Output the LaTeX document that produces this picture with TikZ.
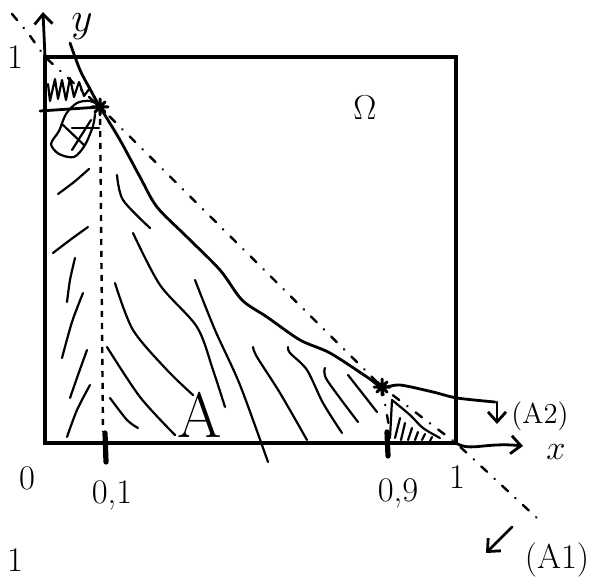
\documentclass[tikz,border=0pt]{standalone}
\usetikzlibrary{arrows.meta,positioning}

\tikzset{
  rand/.style={line width=1.6pt},
  stift/.style={line width=1.4pt, line cap=round, line join=round},
  schraffur/.style={line width=1.1pt, line cap=round, line join=round},
  senkrecht/.style={line width=1.2pt, dash pattern=on 3pt off 3pt},
  diagonale/.style={line width=1.2pt, line cap=round, dash pattern=on 4pt off 5pt on 0.2pt off 5pt},
  marke/.style={line width=2.6pt, line cap=round},
  schrift/.style={font=\LARGE, inner sep=0pt},
  pfeil/.style={stift, -{Straight Barb[length=5pt,width=9pt,line width=1.4pt]}},
  stern/.pic={\draw[line width=1.5pt, line cap=round] (-8,0) -- (8,0) (0,-8) -- (0,8) (-5,-5) -- (5,5) (-5,5) -- (5,-5);},
}

\begin{document}
\begin{tikzpicture}[x=0.5pt,y=-0.5pt]
\useasboundingbox (0,0) rectangle (598,582);

% Quadrat Omega
\coordinate (O) at (45,443);
\coordinate (Ex) at (456,443);
\coordinate (Ey) at (45,57);
\coordinate (E) at (456,57);
\draw[rand] (O) rectangle (E);

% Achsen
\coordinate (ytip) at (43,12);
\coordinate (xtip) at (523,446);
\draw[pfeil] (Ey) -- (ytip);
\draw[pfeil] (Ex) .. controls (470,452) and (485,442) .. (xtip);

% Punkte auf der Kurve
\coordinate (P1) at (100,107);
\coordinate (P2) at (382,387);

% gestrichelte Gerade
\draw[diagonale] (12,14) -- (28,33) -- (Ey) -- (P1) -- (P2) -- (Ex) -- (538,519);

% Kurve
\draw[stift] plot[smooth,tension=0.5] coordinates {(70,43) (80,70) (90,89) (P1) (120,140) (140,177) (157,207) (187,237) (220,270) (242,300) (267,317) (300,340) (330,353) (367,377) (P2) (400,385) (433,392) (457,398) (495,402)};

% (A2) und (A1)
\coordinate (A2a) at (497,402);
\coordinate (A2b) at (497,424);
\draw[pfeil] (A2a) -- (A2b);
\coordinate (A1a) at (512,527);
\coordinate (A1b) at (486,553);
\draw[pfeil] (A1a) -- (A1b);

% Lote und Markierungen
\draw[senkrecht] (P1) -- (103,432);
\draw[diagonale] (P2) -- (390,432);
\draw[marke] (105,433) -- (106,462);
\draw[marke] (387,432) -- (388,456);
\draw[stift] (40,111) -- (P1);
\pic at (P1) {stern};
\pic at (P2) {stern};

% Schraffur oben links
\draw[schraffur] (48,84) -- (50,101) -- (55,79) -- (58,99) -- (62,80) -- (66,100) -- (70,78) -- (74,97) -- (79,82) -- (84,96) -- (90,88);
\draw[schraffur] plot[smooth] coordinates {(102,107) (90,101) (77,103) (66,114) (59,131) (51,144) (59,154) (74,157) (85,145) (93,126) (95,114)};
\draw[schraffur] (63,125) -- (84,145);
\draw[schraffur] (72,150) -- (91,120);
\draw[schraffur] (72,128) -- (99,128);

% Schraffur A
\draw[schraffur] plot[smooth] coordinates {(89,169) (74,182) (58,194)};
\draw[schraffur] plot[smooth] coordinates {(88,227) (70,240) (53,253)};
\draw[schraffur] plot[smooth] coordinates {(75,258) (70,280) (67,302)};
\draw[schraffur] plot[smooth] coordinates {(83,293) (72,322) (62,358)};
\draw[schraffur] plot[smooth] coordinates {(87,350) (78,375) (70,398)};
\draw[schraffur] plot[smooth] coordinates {(90,385) (77,410) (67,437)};
\draw[schraffur] plot[smooth] coordinates {(117,175) (123,200) (150,228)};
\draw[schraffur] plot[smooth] coordinates {(115,283) (133,330) (167,370) (193,395)};
\draw[schraffur] plot[smooth] coordinates {(107,347) (140,397) (175,435)};
\draw[schraffur] plot[smooth] coordinates {(110,398) (127,420) (138,428)};
\draw[schraffur] plot[smooth] coordinates {(133,233) (160,285) (197,327) (213,370) (225,407)};
\draw[schraffur] plot[smooth] coordinates {(195,280) (215,330) (240,385) (268,462)};
\draw[schraffur] plot[smooth] coordinates {(253,347) (257,357) (280,393) (307,440)};
\draw[schraffur] plot[smooth] coordinates {(288,347) (290,353) (307,370) (323,403) (342,433)};
\draw[schraffur] plot[smooth] coordinates {(325,368) (327,380) (358,422)};
\draw[schraffur] (348,375) -- (377,412);

% Schraffur unten rechts
\draw[schraffur] (392,400) -- (390,438);
\draw[schraffur] plot[smooth] coordinates {(392,400) (410,415) (423,428) (440,438)};
\draw[schraffur] (400,418) -- (395,438);
\draw[schraffur] (405,423) -- (401,440);
\draw[schraffur] (412,428) -- (408,440);
\draw[schraffur] (418,432) -- (415,440);
\draw[schraffur] (425,434) -- (422,440);
\draw[schraffur] (432,437) -- (430,441);

% Beschriftung
\node[schrift] (lab1y) at (15,57) {1};
\node[schrift, font=\huge] (laby) at (82,27) {$y$};
\node[schrift] (labx) at (556,452) {$x$};
\node[schrift] (lab0) at (27,478) {0};
\node[schrift] (lab01) at (112,495) {0,1};
\node[schrift] (lab09) at (398,493) {0,9};
\node[schrift] (lab1x) at (457,477) {1};
\node[schrift] (labOmega) at (365,108) {$\Omega$};
\node[schrift, font=\fontsize{32}{32}\selectfont] (labA) at (200,415) {A};
\node[schrift, font=\Large] (labA2) at (540,416) {(A2)};
\node[schrift] (labA1) at (557,560) {(A1)};
\node[schrift] (lab1u) at (15,560) {1};
\end{tikzpicture}
\end{document}
